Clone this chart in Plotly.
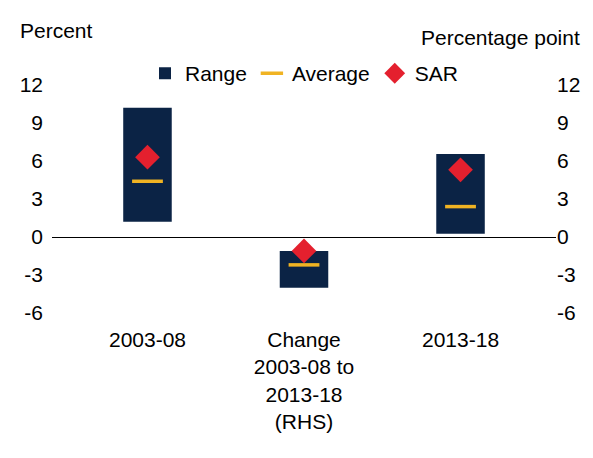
import plotly.graph_objects as go

categories = ["2003-08", "Change<br>2003-08 to<br>2013-18<br>(RHS)", "2013-18"]
range_low = [1.2, -4.0, 0.25]
range_high = [10.2, -1.1, 6.55]
average = [4.4, -2.2, 2.4]
sar = [6.3, -1.1, 5.3]
ticks = [12, 9, 6, 3, 0, -3, -6]
tick_labels = ["12", "9", "6", "3", "0", "-3", "-6"]

navy = "#0b2345"
orange = "#f0b323"
red = "#e4202e"
xs = [0, 1, 2]
font = dict(family="Liberation Sans, Arial", size=21, color="black")

fig = go.Figure()
fig.add_bar(x=xs, y=[h - l for h, l in zip(range_high, range_low)], base=range_low,
            width=0.31, marker=dict(color=navy, line_width=0), name="Range")
fig.add_scatter(x=xs, y=average, mode="markers", name="Average",
                marker=dict(symbol="line-ew", size=22, line=dict(color=orange, width=3.5), color=orange))
fig.add_scatter(x=xs, y=sar, mode="markers", name="SAR",
                marker=dict(symbol="diamond", size=19, color=red))
fig.add_scatter(x=[0], y=[None], yaxis="y2", showlegend=False)

fig.update_layout(
    width=593, height=458, margin=dict(l=42, r=45, t=77, b=153),
    plot_bgcolor="white", paper_bgcolor="white", font=font,
    showlegend=True,
    legend=dict(orientation="h", x=0.5, xanchor="center", y=1.05, yanchor="middle",
                font=font, itemwidth=30, tracegroupgap=0),
    xaxis=dict(range=[-0.61, 2.61], tickvals=xs, ticktext=categories, showgrid=False,
               zeroline=False, showline=False, ticks="", tickfont=font,
               ticklabelstandoff=12),
    yaxis=dict(range=[-6, 12], tickvals=ticks, ticktext=tick_labels, showgrid=False,
               zeroline=True, zerolinecolor="black", zerolinewidth=1, showline=False,
               ticks="", tickfont=font, ticklabelstandoff=8),
    yaxis2=dict(range=[-6, 12], tickvals=ticks, ticktext=tick_labels, overlaying="y",
                side="right", showgrid=False, zeroline=False, showline=False, ticks="",
                tickfont=font),
    annotations=[
        dict(text="Percent", x=0, xref="paper", xanchor="left", xshift=-34,
             y=1.24, yref="paper", yanchor="middle", showarrow=False, font=font),
        dict(text="Percentage point", x=1, xref="paper", xanchor="right", xshift=26,
             y=1.21, yref="paper", yanchor="middle", showarrow=False, font=font),
    ],
)
fig.write_html("out.html")
